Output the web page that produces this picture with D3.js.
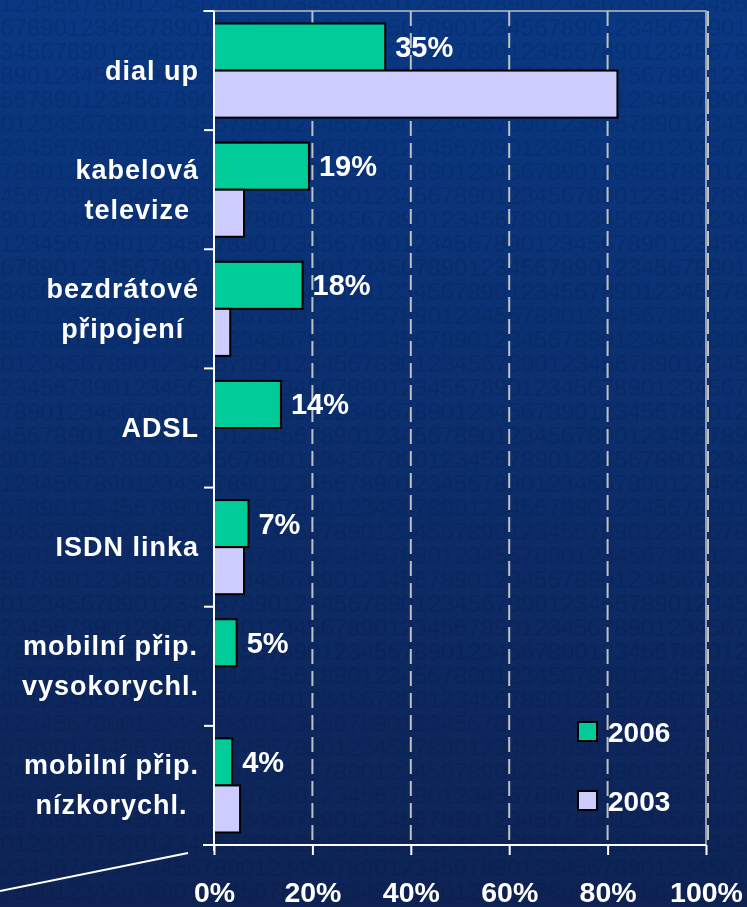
<!DOCTYPE html>
<html>
<head>
<meta charset="utf-8">
<script src="https://cdnjs.cloudflare.com/ajax/libs/d3/7.8.5/d3.min.js"></script>
<style>
  body { margin: 0; background: #0c2c68; }
  #wrapper { position: relative; width: 747px; height: 907px; }
  #wrapper canvas, #wrapper svg { position: absolute; left: 0; top: 0; }
  svg { display: block; font-family: "Liberation Sans", Arial, sans-serif; font-weight: bold; }
</style>
</head>
<body>
<div id="wrapper"></div>
<script>
// data
const categories = [
  ["dial up"],
  ["kabelová", "televize"],
  ["bezdrátové", "připojení"],
  ["ADSL"],
  ["ISDN linka"],
  ["mobilní přip.", "vysokorychl."],
  ["mobilní přip.", "nízkorychl."]
];
const series = ["2006", "2003"];
const values2006 = [34.8, 19.3, 18.0, 13.6, 7.0, 4.6, 3.7];
const values2003 = [82.0, 6.1, 3.3, 0, 6.1, 0, 5.3];
const xTicks = [0, 20, 40, 60, 80, 100];
const colors = { "2006": "#00cc99", "2003": "#ccccff" };

const width = 747, height = 907;
const plotLeft = 214, plotRight = 706, plotTop = 11, plotBottom = 845;

// background: gradient + faint digit texture on a canvas
const canvas = d3.select("#wrapper").append("canvas")
  .attr("width", width).attr("height", height).node();
const ctx = canvas.getContext("2d");
const bg = ctx.createLinearGradient(0, 0, 0, height);
bg.addColorStop(0, "#093883");
bg.addColorStop(1, "#0e2354");
ctx.fillStyle = bg;
ctx.fillRect(0, 0, width, height);
const rowShift = [0, 5, 2, 7, 4, 9, 1, 6, 3, 8];
ctx.fillStyle = "rgba(0, 12, 45, 0.13)";
ctx.font = "24px 'Liberation Sans', Arial, sans-serif";
d3.range(0, 40).forEach(function(r) {
  ctx.fillText("1234567890".repeat(8), -rowShift[r % 10] * 13.3, 12 + r * 24);
});

const svg = d3.select("#wrapper").append("svg")
  .attr("width", width)
  .attr("height", height);

// scales
const x = d3.scaleLinear().domain([0, 100]).range([plotLeft, plotRight]);
const y = d3.scaleBand().domain(d3.range(categories.length)).range([plotTop, plotBottom]);
const ySub = d3.scaleBand().domain(series).range([0, y.bandwidth()]).paddingOuter(0.266);

// grid lines
svg.append("g").selectAll("line")
  .data(xTicks.slice(1))
  .enter().append("line")
  .attr("x1", function(d) { return x(d) + (d === 100 ? 2 : 0); })
  .attr("x2", function(d) { return x(d) + (d === 100 ? 2 : 0); })
  .attr("y1", plotTop).attr("y2", plotBottom)
  .attr("stroke", "#c0c0c0").attr("stroke-width", 2)
  .attr("stroke-dasharray", "15,7");

// plot border (top and right)
svg.append("path")
  .attr("d", "M" + (plotLeft - 11) + "," + plotTop + "H" + plotRight + "V" + plotBottom)
  .attr("fill", "none").attr("stroke", "#c0c0c0").attr("stroke-width", 1.5);

// bars
const rows = categories.map(function(c, i) {
  return { i: i, vals: [{ s: "2006", v: values2006[i] }, { s: "2003", v: values2003[i] }] };
});
const groups = svg.append("g").selectAll("g")
  .data(rows).enter().append("g")
  .attr("transform", function(d) { return "translate(0," + y(d.i) + ")"; });

groups.selectAll("rect")
  .data(function(d) { return d.vals.filter(function(e) { return e.v > 0; }); })
  .enter().append("rect")
  .attr("x", x(0))
  .attr("y", function(d) { return ySub(d.s); })
  .attr("width", function(d) { return x(d.v) - x(0); })
  .attr("height", ySub.bandwidth())
  .attr("fill", function(d) { return colors[d.s]; })
  .attr("stroke", "#000").attr("stroke-width", 2);

// value labels for 2006
groups.append("text")
  .attr("x", function(d) { return x(values2006[d.i]) + 10; })
  .attr("y", ySub("2006") + ySub.bandwidth() / 2 + 10)
  .attr("fill", "#fff").style("font-size", "29px")
  .text(function(d) { return Math.round(values2006[d.i]) + "%"; });

// axes
const yAxis = svg.append("g").attr("transform", "translate(" + plotLeft + ",0)");
yAxis.append("line").attr("y1", plotTop).attr("y2", plotBottom + 6)
  .attr("stroke", "#fff").attr("stroke-width", 2);
yAxis.selectAll(".ytick")
  .data(d3.range(categories.length + 1))
  .enter().append("line")
  .attr("x1", -10).attr("x2", 0)
  .attr("y1", function(d) { return plotTop + d * y.step(); })
  .attr("y2", function(d) { return plotTop + d * y.step(); })
  .attr("stroke", "#fff").attr("stroke-width", 2);

const xAxis = svg.append("g").attr("transform", "translate(0," + plotBottom + ")")
  .call(d3.axisBottom(x).tickValues(xTicks).tickSize(10).tickSizeOuter(0)
    .tickFormat(function(d) { return d + "%"; }));
xAxis.select(".domain").attr("d", "M" + (plotLeft - 11) + ",0H" + plotRight)
  .attr("stroke", "#fff").attr("stroke-width", 2);
xAxis.selectAll(".tick line").attr("stroke", "#fff").attr("stroke-width", 2);
xAxis.selectAll(".tick text")
  .attr("y", 57).attr("dy", 0)
  .attr("fill", "#fff")
  .style("font-size", "28.5px").style("font-family", "'Liberation Sans', Arial, sans-serif")
  .style("font-weight", "bold");

// category labels: centered blocks, right edge at 199
const labelRight = 199, lineGap = 40;
categories.forEach(function(lines, i) {
  const cy = y(i) + y.bandwidth() / 2 + 9;
  const g = svg.append("g").attr("fill", "#fff")
    .style("font-size", "27px").style("letter-spacing", "1px");
  const texts = lines.map(function(l, k) {
    return g.append("text")
      .attr("y", cy + (k - (lines.length - 1) / 2) * lineGap)
      .attr("text-anchor", "middle")
      .text(l);
  });
  const maxW = d3.max(texts, function(t) { return t.node().getComputedTextLength(); });
  texts.forEach(function(t) { t.attr("x", labelRight - maxW / 2); });
});

// legend
const legendY = [722, 791];
const legend = svg.append("g").selectAll("g")
  .data(series).enter().append("g")
  .attr("transform", function(d, i) { return "translate(578," + legendY[i] + ")"; });
legend.append("rect").attr("width", 19).attr("height", 19)
  .attr("fill", function(d) { return colors[d]; })
  .attr("stroke", "#000").attr("stroke-width", 2);
legend.append("text").attr("x", 30).attr("y", 20)
  .attr("fill", "#fff").style("font-size", "28px")
  .text(function(d) { return d; });

// decorative diagonal line
svg.append("line")
  .attr("x1", 0).attr("y1", 891).attr("x2", 188).attr("y2", 853)
  .attr("stroke", "#fff").attr("stroke-width", 2);
</script>
</body>
</html>
